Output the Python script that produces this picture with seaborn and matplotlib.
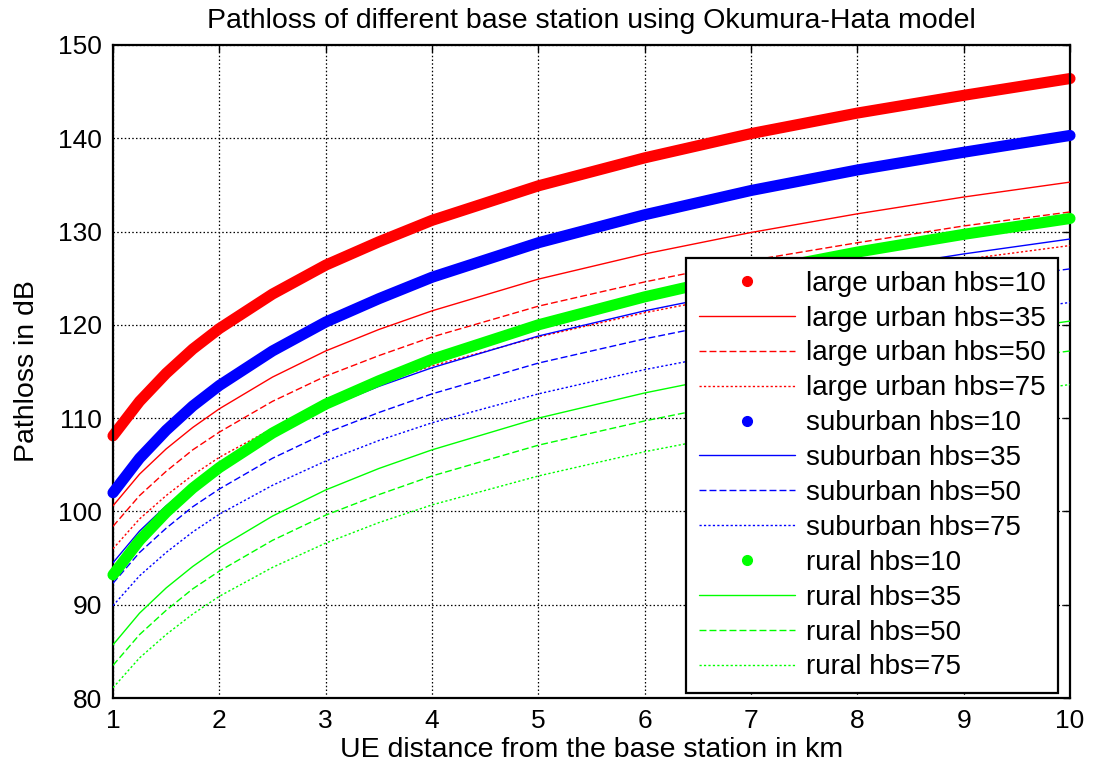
import matplotlib
matplotlib.use("Agg")
import matplotlib.pyplot as plt
from matplotlib.lines import Line2D
import seaborn as sns
import pandas as pd

# Distance from the base station (km)
distance_km = [1, 1.25, 1.5, 1.75, 2, 2.5, 3, 3.5, 4, 5, 6, 7, 8, 9, 10]

# Path loss (dB) for each environment and base-station antenna height
large_urban_10 = [108.1, 111.8, 114.8, 117.4, 119.6, 123.3, 126.4, 128.9, 131.2, 134.9, 137.9, 140.5, 142.7, 144.6, 146.4]
large_urban_35 = [100.6, 104.0, 106.7, 109.0, 111.0, 114.4, 117.2, 119.5, 121.5, 124.9, 127.6, 129.9, 131.9, 133.7, 135.3]
large_urban_50 = [98.4, 101.7, 104.3, 106.6, 108.5, 111.8, 114.5, 116.7, 118.7, 122.0, 124.6, 126.9, 128.8, 130.6, 132.1]
large_urban_75 = [96.0, 99.2, 101.7, 103.9, 105.8, 108.9, 111.5, 113.7, 115.6, 118.7, 121.3, 123.5, 125.4, 127.0, 128.5]

suburban_10 = [102.0, 105.7, 108.7, 111.3, 113.5, 117.2, 120.3, 122.8, 125.1, 128.8, 131.8, 134.4, 136.6, 138.5, 140.3]
suburban_35 = [94.5, 97.9, 100.6, 102.9, 104.9, 108.3, 111.1, 113.4, 115.4, 118.8, 121.5, 123.8, 125.8, 127.6, 129.2]
suburban_50 = [92.3, 95.6, 98.2, 100.5, 102.4, 105.7, 108.4, 110.6, 112.6, 115.9, 118.5, 120.8, 122.7, 124.5, 126.0]
suburban_75 = [89.9, 93.1, 95.6, 97.8, 99.7, 102.8, 105.4, 107.6, 109.5, 112.6, 115.2, 117.4, 119.3, 120.9, 122.4]

rural_10 = [93.2, 96.9, 99.9, 102.5, 104.7, 108.4, 111.5, 114.0, 116.3, 120.0, 123.0, 125.6, 127.8, 129.7, 131.4]
rural_35 = [85.7, 89.1, 91.8, 94.1, 96.1, 99.5, 102.3, 104.6, 106.6, 110.0, 112.7, 115.0, 117.0, 118.8, 120.4]
rural_50 = [83.5, 86.8, 89.4, 91.7, 93.6, 96.9, 99.6, 101.8, 103.8, 107.1, 109.7, 112.0, 113.9, 115.7, 117.2]
rural_75 = [81.1, 84.3, 86.8, 89.0, 90.9, 94.0, 96.6, 98.8, 100.7, 103.8, 106.4, 108.6, 110.5, 112.1, 113.6]

labels = [
    "large urban hbs=10", "large urban hbs=35", "large urban hbs=50", "large urban hbs=75",
    "suburban hbs=10", "suburban hbs=35", "suburban hbs=50", "suburban hbs=75",
    "rural hbs=10", "rural hbs=35", "rural hbs=50", "rural hbs=75",
]
series = [
    large_urban_10, large_urban_35, large_urban_50, large_urban_75,
    suburban_10, suburban_35, suburban_50, suburban_75,
    rural_10, rural_35, rural_50, rural_75,
]

sns.set_theme(style="white")
plt.rcParams["font.family"] = ["Liberation Sans", "DejaVu Sans"]
plt.rcParams["text.color"] = "black"
plt.rcParams["axes.labelcolor"] = "black"
plt.rcParams["xtick.color"] = "black"
plt.rcParams["ytick.color"] = "black"

fig = plt.figure(figsize=(10.97, 7.70), dpi=100)
ax = fig.add_axes([0.103, 0.0935, 0.8724, 0.8481])

env_colors = ["#ff0000", "#0000ff", "#00ff00"]
dash_styles = [None, (0, (5, 2.2)), (0, (1.6, 1.6))]

handles = []
for i, (lab, vals) in enumerate(zip(labels, series)):
    color = env_colors[i // 4]
    kind = i % 4
    df = pd.DataFrame({"d": distance_km, "pl": vals})
    if kind == 0:
        sns.lineplot(data=df, x="d", y="pl", ax=ax, color=color, lw=8.0,
                     solid_capstyle="round", solid_joinstyle="round",
                     clip_on=False, legend=False, zorder=2 + i)
        handles.append(Line2D([], [], color=color, marker="o", ls="none",
                              markersize=7, label=lab))
    else:
        ls = "-" if kind == 1 else dash_styles[kind - 1]
        sns.lineplot(data=df, x="d", y="pl", ax=ax, color=color, lw=1.0,
                     linestyle=ls, legend=False, zorder=2 + i)
        handles.append(Line2D([], [], color=color, lw=1.0, linestyle=ls, label=lab))

ax.set_xlim(1, 10)
ax.set_ylim(80, 150)
ax.set_xticks(range(1, 11))
ax.set_yticks(range(80, 151, 10))

ax.grid(True, color="black", linestyle=(0, (1.2, 1.8)), linewidth=0.9)
ax.set_axisbelow(True)
for sp in ax.spines.values():
    sp.set_color("black")
    sp.set_linewidth(1.6)
    sp.set_visible(True)
ax.tick_params(direction="in", length=5, width=1.0, top=True, right=True,
               labelsize=19, pad=8)

ax.set_title("Pathloss of different base station using Okumura-Hata model",
             fontsize=20.5, pad=12)
ax.set_xlabel("UE distance from the base station in km", fontsize=20.5, labelpad=3)
ax.set_ylabel("Pathloss in dB", fontsize=20.5, labelpad=13)

leg = ax.legend(handles=handles, loc="lower right", bbox_to_anchor=(0.9875, 0.0077),
                borderaxespad=0, fontsize=20, frameon=True, fancybox=False,
                handlelength=3.45, handletextpad=0.4, labelspacing=0.32,
                borderpad=0.45, framealpha=1)
leg.get_frame().set_edgecolor("black")
leg.get_frame().set_linewidth(1.6)
leg.set_zorder(50)

fig.savefig("out.png", dpi=100)
